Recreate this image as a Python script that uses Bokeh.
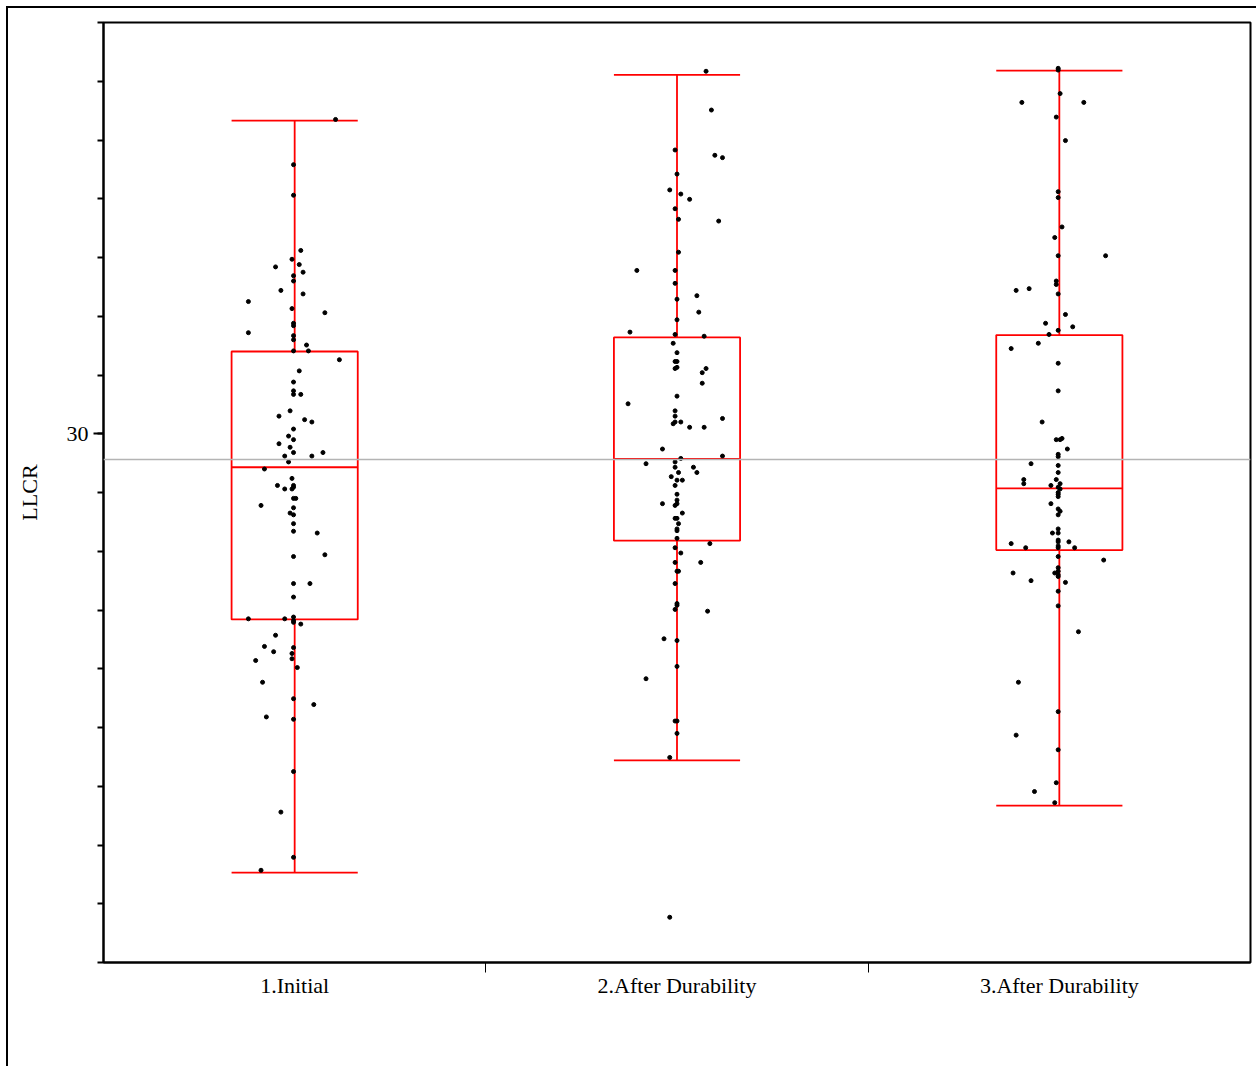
from bokeh.plotting import figure
from bokeh.models import Range1d, FixedTicker, ColumnDataSource, Span
from bokeh.embed import file_html
from bokeh.resources import INLINE

categories = ["1.Initial", "2.After Durability", "3.After Durability"]

initial_llcr = [35.35, 34.58, 34.06, 33.12, 32.97, 32.84, 32.88, 32.75, 32.69, 32.60,
                32.44, 32.38, 32.25, 32.13, 32.06, 31.88, 31.84, 31.72, 31.67, 31.60,
                31.51, 31.41, 31.41, 31.26, 31.07, 30.88, 30.73, 30.67, 30.67, 30.39,
                30.30, 30.24, 30.20, 30.08, 29.96, 29.90, 29.83, 29.77, 29.68, 29.62,
                29.62, 29.68, 29.52, 29.40, 29.24, 29.12, 29.12, 29.06, 29.06, 29.09,
                28.90, 28.90, 28.78, 28.74, 28.65, 28.62, 28.47, 28.34, 28.31, 27.91,
                27.94, 27.45, 27.45, 27.22, 26.85, 26.85, 26.88, 26.82, 26.79, 26.76,
                26.57, 26.38, 26.36, 26.29, 26.26, 26.14, 26.17, 26.02, 25.77, 25.49,
                25.39, 25.18, 25.14, 24.25, 23.56, 22.79, 22.57]
initial_jitter = [0.107, -0.003, -0.003, 0.016, -0.007, -0.050, 0.012, 0.022, -0.003, -0.003,
                  -0.036, 0.022, -0.121, -0.007, 0.079, -0.003, -0.003, -0.121, -0.003, -0.003,
                  0.031, -0.003, 0.036, 0.117, 0.012, -0.003, -0.003, -0.003, 0.016, -0.012,
                  -0.041, 0.026, 0.045, -0.003, -0.016, -0.003, -0.041, -0.012, -0.003, -0.026,
                  0.045, 0.074, -0.016, -0.079, -0.007, -0.045, -0.003, -0.026, -0.007, -0.003,
                  -0.003, 0.003, -0.088, -0.003, -0.012, -0.003, -0.003, -0.003, 0.059, -0.003,
                  0.079, -0.003, 0.040, -0.003, -0.121, -0.026, -0.003, -0.003, -0.003, 0.016,
                  -0.050, -0.079, -0.003, -0.055, -0.007, -0.102, -0.007, 0.007, -0.084, -0.003,
                  0.050, -0.074, -0.003, -0.003, -0.036, -0.003, -0.088]

durab2_llcr = [36.17, 35.51, 34.83, 34.74, 34.70, 34.42, 34.15, 34.08, 33.99, 33.83,
               33.65, 33.62, 33.09, 32.78, 32.78, 32.56, 32.35, 32.29, 32.07, 31.94,
               31.73, 31.69, 31.66, 31.54, 31.38, 31.23, 31.23, 31.11, 31.13, 31.11,
               31.04, 30.86, 30.64, 30.51, 30.39, 30.30, 30.26, 30.20, 30.20, 30.17,
               30.11, 30.11, 29.74, 29.62, 29.58, 29.49, 29.52, 29.43, 29.43, 29.34,
               29.34, 29.27, 29.21, 29.21, 29.12, 28.97, 28.87, 28.81, 28.81, 28.78,
               28.65, 28.56, 28.56, 28.47, 28.38, 28.35, 28.22, 28.13, 28.06, 27.97,
               27.81, 27.81, 27.66, 27.66, 27.45, 27.11, 27.08, 27.01, 26.98, 26.51,
               26.48, 26.04, 25.83, 25.11, 25.11, 24.90, 24.49, 21.77]
durab2_jitter = [0.076, 0.090, -0.005, 0.099, 0.119, 0.000, -0.019, 0.010, 0.033, -0.005,
                 0.004, 0.109, 0.004, -0.105, -0.005, -0.005, 0.052, 0.000, 0.057, 0.000,
                 -0.123, -0.005, 0.071, -0.010, 0.000, -0.005, 0.000, -0.005, 0.000, 0.076,
                 0.066, 0.066, 0.000, -0.128, -0.005, -0.005, 0.119, -0.005, 0.010, -0.010,
                 0.033, 0.071, -0.038, 0.119, 0.010, -0.081, -0.005, -0.005, 0.043, 0.004,
                 0.052, -0.015, 0.000, 0.014, -0.005, 0.000, 0.000, -0.038, 0.000, -0.005,
                 0.014, -0.005, 0.000, 0.004, 0.000, 0.000, 0.000, 0.086, -0.005, 0.010,
                 -0.005, 0.062, 0.000, 0.004, -0.005, 0.000, 0.000, -0.005, 0.080, -0.034,
                 0.000, 0.000, -0.081, -0.005, 0.000, 0.000, -0.019, -0.019]

durab3_llcr = [36.22, 36.19, 35.79, 35.64, 35.64, 35.39, 34.99, 34.12, 34.02, 33.52,
               33.34, 33.03, 33.03, 32.60, 32.54, 32.44, 32.47, 32.38, 32.03, 31.88,
               31.82, 31.76, 31.69, 31.54, 31.45, 31.20, 30.73, 30.20, 29.90, 29.90,
               29.92, 29.74, 29.65, 29.61, 29.49, 29.46, 29.34, 29.22, 29.15, 29.22,
               29.12, 29.15, 29.09, 29.06, 29.00, 28.97, 28.93, 28.81, 28.72, 28.68,
               28.62, 28.31, 28.38, 28.31, 28.19, 28.16, 28.16, 28.13, 28.09, 28.06,
               28.06, 28.06, 27.91, 27.85, 27.72, 27.63, 27.63, 27.66, 27.60, 27.57,
               27.50, 27.47, 27.32, 27.07, 26.63, 25.77, 25.27, 24.87, 24.62, 24.06,
               23.91, 23.72]
durab3_jitter = [-0.003, -0.003, 0.002, -0.098, 0.064, -0.008, 0.016, -0.003, -0.003, 0.007,
                 -0.012, -0.003, 0.121, -0.008, -0.008, -0.113, -0.079, -0.003, 0.016, -0.036,
                 0.035, -0.003, -0.027, -0.055, -0.126, -0.003, -0.003, -0.045, -0.008, 0.002,
                 0.007, 0.021, -0.003, -0.003, -0.074, -0.003, -0.003, -0.093, -0.093, -0.008,
                 -0.022, 0.002, -0.003, 0.002, -0.003, -0.003, -0.003, -0.022, -0.003, 0.002,
                 -0.003, -0.018, -0.003, -0.003, -0.003, -0.003, 0.025, -0.126, -0.003, -0.088,
                 0.040, -0.003, -0.003, 0.116, -0.003, -0.121, -0.012, -0.003, -0.003, -0.003,
                 -0.074, 0.016, -0.003, -0.003, 0.050, -0.107, -0.003, -0.113, -0.003, -0.008,
                 -0.065, -0.012]

box_lower = [22.53, 24.44, 23.67]
box_q1 = [26.84, 28.18, 28.02]
box_median = [29.43, 29.57, 29.07]
box_q3 = [31.40, 31.64, 31.68]
box_upper = [35.33, 36.11, 36.18]
grand_mean = 29.56
labeled_ticks = [30]
minor_ticks = list(range(21, 38))

FONT = "Liberation Serif"
RED = "#ff0000"
HALF = 0.165

p = figure(width=1250, height=1060, x_range=Range1d(0, 3), y_range=Range1d(21, 37),
           output_backend="svg", toolbar_location=None,
           min_border_left=95, min_border_right=8, min_border_top=14, min_border_bottom=106)
p.styles = {"border-left": "2px solid black", "border-top": "2px solid black",
            "margin-left": "6px", "margin-top": "6px"}
p.grid.visible = False
p.outline_line_color = "black"
p.outline_line_width = 2
p.background_fill_color = "white"
p.border_fill_color = "white"

# y axis
ya = p.yaxis[0]
ya.ticker = FixedTicker(ticks=labeled_ticks, minor_ticks=minor_ticks)
ya.axis_label = "LLCR"
ya.axis_label_text_font = FONT
ya.axis_label_text_font_size = "22px"
ya.axis_label_text_font_style = "normal"
ya.axis_label_text_color = "black"
ya.axis_label_standoff = 22
ya.major_label_text_font = FONT
ya.major_label_text_font_size = "22px"
ya.major_label_text_color = "black"
ya.major_label_standoff = 5
ya.axis_line_width = 2
ya.major_tick_line_width = 2
ya.minor_tick_line_width = 2
ya.major_tick_out = 10
ya.major_tick_in = 0
ya.minor_tick_out = 6
ya.minor_tick_in = 0

# x axis
centers = [i + 0.5 for i in range(len(categories))]
xa = p.xaxis[0]
xa.ticker = FixedTicker(ticks=centers, minor_ticks=[1, 2])
xa.major_label_overrides = {c: lab for c, lab in zip(centers, categories)}
xa.major_label_text_font = FONT
xa.major_label_text_font_size = "22px"
xa.major_label_text_color = "black"
xa.major_label_standoff = 0
xa.axis_line_width = 2
xa.major_tick_out = 0
xa.major_tick_in = 0
xa.minor_tick_out = 10
xa.minor_tick_in = 0
xa.minor_tick_line_width = 1

# grand mean line
p.add_layout(Span(location=grand_mean, dimension="width", line_color="#b4b4b4", line_width=1.5))

# boxes
bsrc = ColumnDataSource(dict(
    x=centers,
    left=[c - HALF for c in centers], right=[c + HALF for c in centers],
    lower=box_lower, q1=box_q1, med=box_median, q3=box_q3, upper=box_upper))
p.quad(left="left", right="right", bottom="q1", top="q3", source=bsrc,
       fill_alpha=0, line_color=RED, line_width=1.8)
p.segment(x0="left", x1="right", y0="med", y1="med", source=bsrc, line_color=RED, line_width=1.8)
p.segment(x0="x", x1="x", y0="q3", y1="upper", source=bsrc, line_color=RED, line_width=1.8)
p.segment(x0="x", x1="x", y0="lower", y1="q1", source=bsrc, line_color=RED, line_width=1.8)
p.segment(x0="left", x1="right", y0="upper", y1="upper", source=bsrc, line_color=RED, line_width=1.8)
p.segment(x0="left", x1="right", y0="lower", y1="lower", source=bsrc, line_color=RED, line_width=1.8)

# points
for c, vals, jit in zip(centers, [initial_llcr, durab2_llcr, durab3_llcr],
                        [initial_jitter, durab2_jitter, durab3_jitter]):
    src = ColumnDataSource(dict(x=[c + j for j in jit], y=vals))
    p.scatter(x="x", y="y", source=src, size=4, color="black")

open("out.html", "w").write(file_html(p, INLINE))
